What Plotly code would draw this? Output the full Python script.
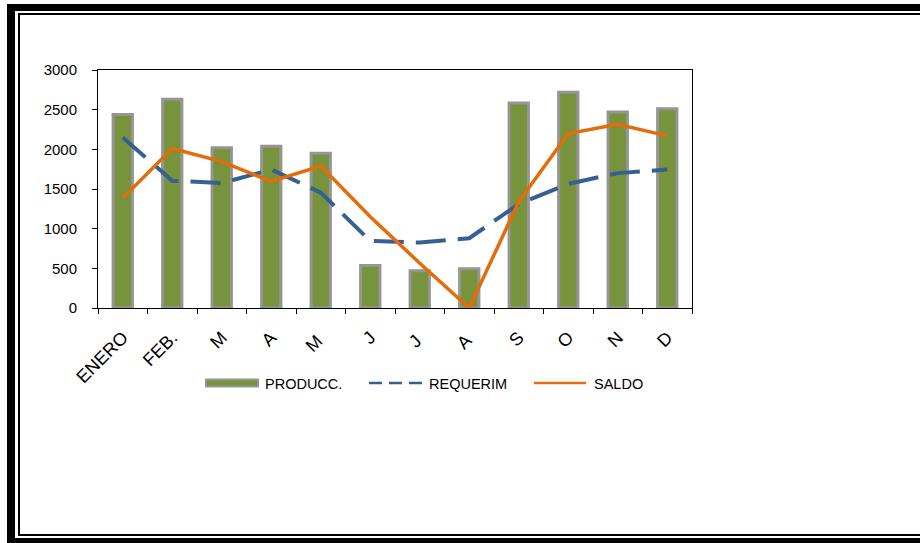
import plotly.graph_objects as go

months = ["ENERO", "FEB.", "M", "A", "M ", "J", "J ", "A ", "S", "O", "N", "D"]
produc = [2440, 2630, 2020, 2040, 1950, 535, 470, 495, 2585, 2720, 2470, 2510]
requerim = [2150, 1605, 1575, 1745, 1455, 845, 825, 880, 1310, 1565, 1700, 1745]
saldo = [1385, 2010, 1845, 1595, 1790, 1150, 565, 0, 1340, 2200, 2315, 2170]

GREEN = "#77933C"
GRAY = "#959595"
BLUE = "#376092"
ORANGE = "#E46C0A"
FONT = "Liberation Sans, Arial, sans-serif"

W, H = 920, 543
L, R, T, B = 98, 692, 70, 308


def px(x):
    return (x - L) / (R - L)


def py(y):
    return (B - y) / (B - T)


fig = go.Figure()
fig.add_trace(go.Bar(x=months, y=produc, name="PRODUCC.",
                     marker=dict(color=GREEN, line=dict(color=GRAY, width=3)),
                     showlegend=False))
fig.add_trace(go.Scatter(x=months, y=requerim, name="REQUERIM", mode="lines",
                         line=dict(color=BLUE, width=4, dash="30px,12px"),
                         showlegend=False))
fig.add_trace(go.Scatter(x=months, y=saldo, name="SALDO", mode="lines",
                         line=dict(color=ORANGE, width=3.5),
                         cliponaxis=False, showlegend=False))

shapes = []


def rect(x0, y0, x1, y1, fill, line=None):
    shapes.append(dict(type="rect", xref="paper", yref="paper",
                       x0=px(x0), x1=px(x1), y0=py(y0), y1=py(y1),
                       fillcolor=fill, line=line or dict(width=0), layer="above"))


# outer frame
rect(7, 4, 15, 543, "black")
rect(7, 4, 930, 11, "black")
rect(7, 538, 930, 543, "black")
# inner thin frame
rect(18, 13, 20, 536, "black")
rect(18, 13, 930, 15, "black")
rect(18, 534, 930, 536, "black")

# custom legend
ly = 383
rect(206, 379.5, 258, 386.5, GREEN, dict(color=GRAY, width=2))
shapes.append(dict(type="line", xref="paper", yref="paper", x0=px(369), x1=px(422),
                   y0=py(ly), y1=py(ly), line=dict(color=BLUE, width=2.5, dash="13px,7px")))
shapes.append(dict(type="line", xref="paper", yref="paper", x0=px(534), x1=px(586),
                   y0=py(ly), y1=py(ly), line=dict(color=ORANGE, width=2.5)))

annotations = []
for xt, txt in [(263, "PRODUCC."), (427, "REQUERIM"), (592, "SALDO")]:
    annotations.append(dict(xref="paper", yref="paper", x=px(xt), y=py(ly + 1),
                            text=txt, showarrow=False, xanchor="left", yanchor="middle",
                            font=dict(family=FONT, size=14.5, color="black")))

fig.update_layout(
    width=W, height=H,
    margin=dict(l=L, r=W - R, t=T, b=H - B, pad=0),
    paper_bgcolor="white", plot_bgcolor="white",
    bargap=0.61,
    shapes=shapes, annotations=annotations,
    showlegend=False,
    font=dict(family=FONT, size=14, color="black"),
)
fig.update_xaxes(type="category", showline=True, linecolor="black", linewidth=1, mirror=True,
                 ticks="outside", tickson="boundaries", ticklen=5, tickcolor="black",
                 tickangle=-45, showgrid=False, tickfont=dict(family=FONT, size=18),
                 ticklabelstandoff=11)
fig.update_yaxes(range=[0, 3000], dtick=500, showline=True, linecolor="black", linewidth=1,
                 mirror=True, ticks="outside", ticklen=5, tickcolor="black", showgrid=False,
                 zeroline=False, tickfont=dict(family=FONT, size=15), ticklabelstandoff=12)

fig.write_html("out.html")
